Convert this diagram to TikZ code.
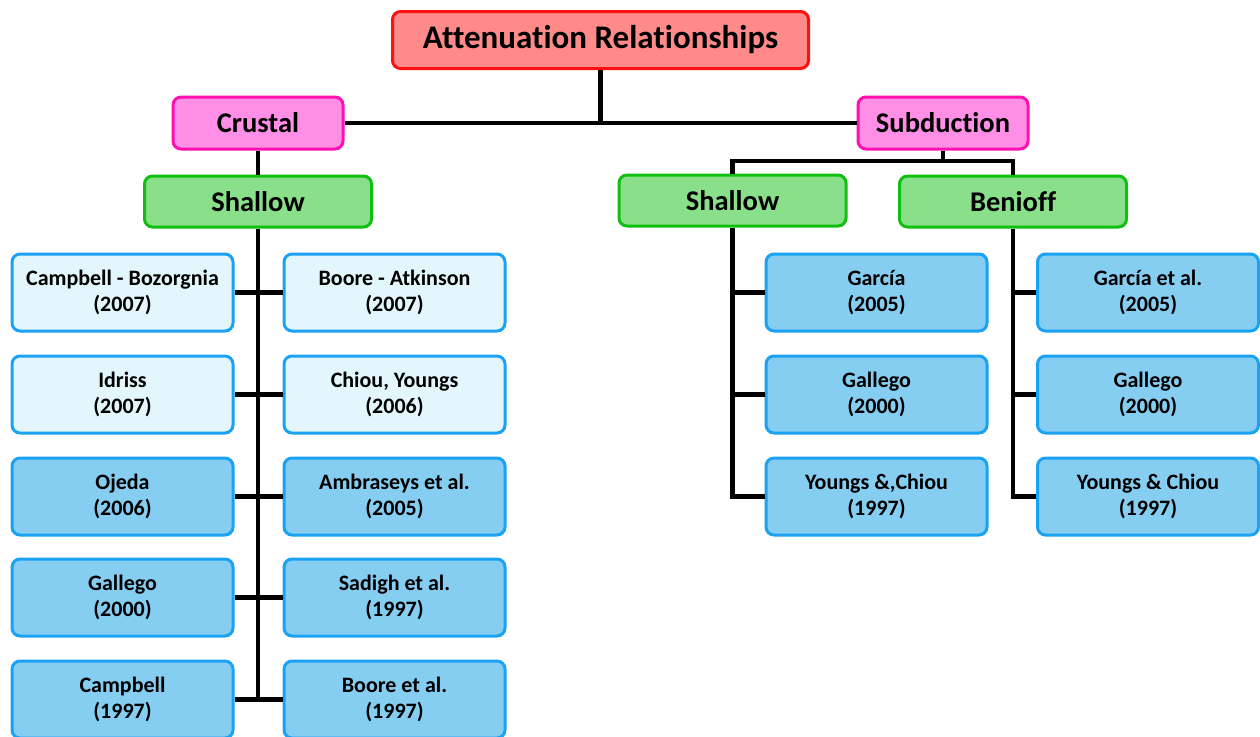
\documentclass[tikz,border=0pt]{standalone}
\usepackage{fontspec}
\setmainfont{Carlito}[Ligatures={NoCommon}]
\definecolor{redB}{HTML}{FF1010}
\definecolor{redF}{HTML}{FF8A8A}
\definecolor{pinkB}{HTML}{FF10B0}
\definecolor{pinkF}{HTML}{FF8FE6}
\definecolor{greenB}{HTML}{10C010}
\definecolor{greenF}{HTML}{8AE08A}
\definecolor{blueB}{HTML}{1CA2F2}
\definecolor{blueF}{HTML}{86CDF2}
\definecolor{blueL}{HTML}{E2F6FC}
\begin{document}
\begin{tikzpicture}[x=1pt,y=-1pt,
  box/.style={draw, rounded corners=8pt, line width=3pt, align=center, font=\bfseries, inner sep=0pt},
  rootbox/.style={box, draw=redB, fill=redF, minimum width=416, minimum height=57, font=\bfseries\fontsize{33}{38}\selectfont},
  midbox/.style={box, draw=pinkB, fill=pinkF, minimum width=170, minimum height=52, font=\bfseries\fontsize{28.5}{32}\selectfont},
  subbox/.style={box, draw=greenB, fill=greenF, minimum width=227, minimum height=51, font=\bfseries\fontsize{28.5}{32}\selectfont},
  leaf/.style={box, draw=blueB, fill=blueF, minimum width=221, minimum height=77, font=\bfseries\fontsize{22}{26}\selectfont},
  leafl/.style={leaf, fill=blueL},
  link/.style={line width=4.5pt}
]
\useasboundingbox (0,0) rectangle (1260,736);
\node[rootbox] (root) at (600.5,40) {Attenuation Relationships};
\node[midbox] (crustal) at (258,123) {Crustal};
\node[midbox] (subd) at (943,123) {Subduction};
\node[subbox] (cshal) at (258,201.5) {Shallow};
\node[subbox] (sshal) at (732.5,200.5) {Shallow};
\node[subbox] (ben) at (1013,201.5) {Benioff};
% crustal leaves
\node[leafl] (L1) at (122.5,292.5) {Campbell - Bozorgnia\\(2007)};
\node[leafl] (R1) at (394.5,292.5) {Boore - Atkinson\\(2007)};
\node[leafl] (L2) at (122.5,394.5) {Idriss\\(2007)};
\node[leafl] (R2) at (394.5,394.5) {Chiou, Youngs\\(2006)};
\node[leaf] (L3) at (122.5,496.5) {Ojeda\\(2006)};
\node[leaf] (R3) at (394.5,496.5) {Ambraseys et al.\\(2005)};
\node[leaf] (L4) at (122.5,597.5) {Gallego\\(2000)};
\node[leaf] (R4) at (394.5,597.5) {Sadigh et al.\\(1997)};
\node[leaf] (L5) at (122.5,699.5) {Campbell\\(1997)};
\node[leaf] (R5) at (394.5,699.5) {Boore et al.\\(1997)};
% subduction leaves
\node[leaf] (S1) at (876.5,292.5) {García\\(2005)};
\node[leaf] (S2) at (876.5,394.5) {Gallego\\(2000)};
\node[leaf] (S3) at (876.5,496.5) {Youngs \&,Chiou\\(1997)};
\node[leaf] (B1) at (1148,292.5) {García et al.\\(2005)};
\node[leaf] (B2) at (1148,394.5) {Gallego\\(2000)};
\node[leaf] (B3) at (1148,496.5) {Youngs \& Chiou\\(1997)};
% connectors
\draw[link] (root.south) -- (root.south |- crustal.east);
\draw[link] (crustal.east) -- (subd.west);
\draw[link] (crustal.south) -- (cshal.north);
\coordinate (sbar) at (943,161);
\draw[link] (subd.south) -- (sbar);
\draw[link] (sshal.north) |- (sbar) -| (ben.north);
\draw[link] (cshal.south) -- (cshal.south |- L5.east);
\foreach \i in {1,...,5} \draw[link] (L\i.east) -- (R\i.west);
\draw[link] (sshal.south) |- (S3.west);
\draw[link] (sshal.south |- S1.west) -- (S1.west);
\draw[link] (sshal.south |- S2.west) -- (S2.west);
\draw[link] (ben.south) |- (B3.west);
\draw[link] (ben.south |- B1.west) -- (B1.west);
\draw[link] (ben.south |- B2.west) -- (B2.west);
\end{tikzpicture}
\end{document}
